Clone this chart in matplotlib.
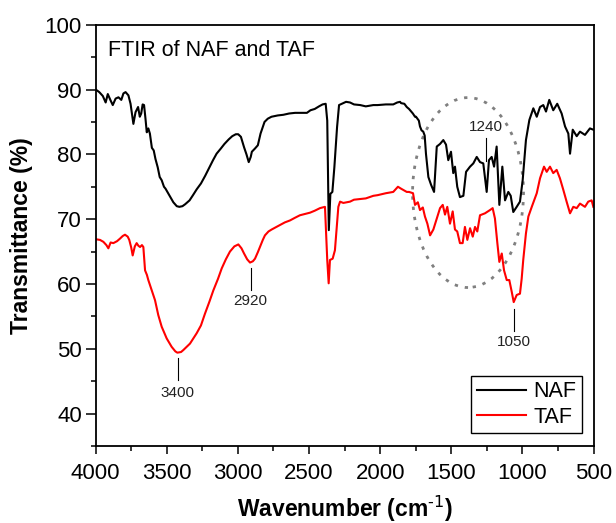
import matplotlib
matplotlib.use("Agg")
import matplotlib.pyplot as plt
from matplotlib.patches import Ellipse
from matplotlib.ticker import MultipleLocator

plt.rcParams['font.family'] = ['Liberation Sans', 'DejaVu Sans']
plt.rcParams['mathtext.default'] = 'regular'

naf_wn = [4000, 3975, 3950, 3930, 3915, 3895, 3880, 3860, 3840, 3820, 3805, 3790, 3770, 3755,
          3735, 3720, 3702, 3690, 3680, 3670, 3660, 3650, 3641, 3630, 3619, 3605, 3592, 3580,
          3564, 3550, 3536, 3520, 3509, 3480, 3454, 3430, 3412, 3390, 3371, 3340, 3316, 3290,
          3260, 3230, 3205, 3175, 3150, 3120, 3095, 3065, 3040, 3015, 2998, 2979, 2957, 2940,
          2924, 2910, 2902, 2880, 2860, 2841, 2813, 2790, 2764, 2720, 2681, 2640, 2598, 2550,
          2515, 2490, 2460, 2430, 2405, 2383, 2372, 2361, 2350, 2336, 2322, 2303, 2289, 2260,
          2240, 2212, 2184, 2140, 2101, 2048, 2018, 1960, 1908, 1880, 1860, 1853, 1830, 1813,
          1797, 1770, 1755, 1748, 1728, 1720, 1709, 1697, 1687, 1678, 1661, 1642, 1621, 1602,
          1579, 1556, 1537, 1521, 1502, 1486, 1474, 1458, 1439, 1415, 1396, 1368, 1345, 1321,
          1298, 1275, 1251, 1235, 1216, 1199, 1181, 1162, 1141, 1122, 1099, 1082, 1064, 1040,
          1017, 998, 975, 951, 923, 899, 876, 853, 834, 811, 783, 755, 724, 700, 677, 665, 646,
          618, 595, 560, 525, 501]
naf_t = [90.0, 89.6, 89.0, 88.0, 89.3, 88.3, 87.6, 88.6, 88.8, 88.4, 89.4, 89.6, 89.1, 87.8,
         84.7, 86.5, 87.3, 85.8, 86.3, 87.7, 87.6, 85.5, 83.4, 84.0, 83.2, 81.0, 80.6, 79.3,
         78.0, 76.5, 76.0, 75.0, 74.7, 73.6, 72.6, 72.0, 71.9, 72.0, 72.3, 72.9, 73.7, 74.6,
         75.5, 76.7, 77.8, 79.1, 80.1, 80.9, 81.6, 82.3, 82.8, 83.1, 83.1, 82.7, 81.1, 80.0,
         78.8, 79.6, 80.4, 80.9, 81.4, 83.2, 85.0, 85.5, 85.8, 86.0, 86.1, 86.3, 86.4, 86.4,
         86.4, 86.8, 87.0, 87.4, 87.7, 87.8, 85.2, 68.3, 73.9, 74.2, 78.0, 84.2, 87.6, 87.9,
         88.1, 88.0, 87.7, 87.6, 87.4, 87.6, 87.6, 87.7, 87.7, 88.0, 88.1, 87.9, 87.8, 87.3,
         87.0, 86.3, 85.8, 85.8, 85.2, 84.3, 83.7, 83.5, 82.9, 80.1, 76.5, 75.3, 74.2, 81.2,
         81.6, 82.2, 81.5, 79.1, 80.4, 77.1, 78.1, 75.0, 73.4, 73.6, 77.3, 78.1, 78.6, 79.6,
         78.8, 78.6, 74.2, 79.1, 79.6, 78.1, 81.2, 72.2, 78.1, 72.9, 74.2, 73.6, 71.1, 71.9,
         72.7, 76.0, 82.2, 85.3, 87.1, 85.8, 87.3, 87.6, 86.6, 88.4, 86.8, 87.8, 86.3, 84.3,
         83.2, 80.1, 83.8, 82.8, 83.5, 83.0, 84.0, 83.8]

taf_wn = [4000, 3970, 3946, 3925, 3911, 3895, 3876, 3850, 3829, 3810, 3794, 3775, 3764, 3750,
          3740, 3725, 3712, 3700, 3688, 3675, 3665, 3653, 3640, 3630, 3606, 3583, 3560, 3536,
          3501, 3466, 3440, 3426, 3400, 3384, 3337, 3290, 3260, 3232, 3200, 3173, 3140, 3114,
          3085, 3056, 3025, 2997, 2975, 2957, 2935, 2915, 2895, 2880, 2860, 2845, 2825, 2810,
          2785, 2763, 2730, 2704, 2670, 2634, 2600, 2564, 2530, 2493, 2460, 2423, 2388, 2372,
          2362, 2353, 2334, 2318, 2294, 2282, 2259, 2212, 2184, 2101, 2048, 2018, 1960, 1908,
          1875, 1853, 1813, 1797, 1769, 1755, 1735, 1720, 1700, 1685, 1668, 1649, 1626, 1602,
          1579, 1560, 1544, 1528, 1509, 1490, 1474, 1458, 1439, 1420, 1404, 1387, 1368, 1349,
          1333, 1317, 1298, 1263, 1228, 1209, 1193, 1176, 1162, 1145, 1129, 1110, 1092, 1075,
          1061, 1040, 1017, 1005, 994, 975, 958, 934, 899, 876, 848, 829, 806, 783, 759, 736,
          712, 689, 665, 642, 618, 595, 560, 537, 513, 501]
taf_t = [66.9, 66.8, 66.5, 66.0, 65.5, 66.4, 66.3, 66.6, 67.0, 67.4, 67.6, 67.3, 66.8, 65.6,
         64.4, 65.8, 66.3, 65.9, 65.7, 66.0, 65.7, 62.1, 61.4, 60.6, 59.0, 57.5, 55.2, 53.4,
         51.6, 50.3, 49.6, 49.4, 49.5, 49.8, 50.8, 52.4, 53.6, 55.4, 57.3, 59.0, 60.8, 62.4,
         63.8, 65.0, 65.8, 66.1, 65.5, 64.7, 63.8, 63.3, 63.5, 63.9, 64.9, 65.7, 66.8, 67.5,
         68.1, 68.4, 68.8, 69.1, 69.5, 69.8, 70.2, 70.6, 70.8, 71.0, 71.3, 71.7, 71.9, 63.7,
         60.1, 63.7, 63.9, 65.2, 71.9, 72.7, 72.5, 72.7, 73.0, 73.2, 73.6, 73.7, 74.0, 74.2,
         75.0, 74.7, 74.2, 74.2, 74.0, 72.2, 72.6, 71.4, 71.8, 70.4, 69.3, 67.5, 68.4, 70.1,
         71.7, 72.2, 70.7, 71.9, 69.3, 71.2, 68.4, 68.1, 66.3, 66.3, 68.8, 66.8, 68.6, 67.3,
         68.8, 68.1, 70.6, 70.9, 71.4, 71.7, 70.1, 66.3, 63.4, 64.7, 62.1, 60.6, 60.6, 58.8,
         57.2, 58.3, 58.5, 60.8, 63.7, 67.8, 70.4, 71.9, 74.0, 76.3, 78.1, 77.3, 78.1, 77.1,
         77.6, 76.3, 74.5, 72.7, 70.9, 71.9, 71.7, 72.4, 71.9, 72.7, 72.9, 71.9]

peak_labels = ["3400", "2920", "1240", "1050"]
peak_x = [3423, 2910, 1254, 1061]
peak_line_top = [48.6, 62.4, 82.5, 56.2]
peak_line_bottom = [45.2, 59.1, 79.0, 52.8]
peak_text_y = [43.2, 57.3, 84.2, 51.1]

x_ticks = [4000, 3500, 3000, 2500, 2000, 1500, 1000, 500]
y_ticks = [40, 50, 60, 70, 80, 90, 100]

fig = plt.figure(figsize=(6.16, 5.23), dpi=100)
ax = fig.add_axes([95.7 / 616, (523 - 446) / 523, 497.8 / 616, 421.3 / 523])

ax.plot(naf_wn, naf_t, color='black', lw=1.5, label='NAF')
ax.plot(taf_wn, taf_t, color='#ff0000', lw=1.5, label='TAF')

ax.set_xlim(4000, 500)
ax.set_ylim(35, 100)
ax.set_xticks(x_ticks)
ax.set_yticks(y_ticks)
ax.xaxis.set_minor_locator(MultipleLocator(250))
ax.yaxis.set_minor_locator(MultipleLocator(5))
ax.tick_params(which='major', direction='out', length=6, width=1.1, labelsize=16, top=False, right=False)
ax.tick_params(axis='x', which='major', pad=6)
ax.tick_params(axis='y', which='major', pad=3, length=7)
ax.tick_params(which='minor', direction='out', length=3.5, width=1.1, top=False, right=False)
for s in ax.spines.values():
    s.set_linewidth(1.3)

ax.set_xlabel('Wavenumber (cm$^{\\text{-1}}$)', fontsize=16.5, fontweight='bold', labelpad=7)
ax.set_ylabel('Transmittance (%)', fontsize=16.5, fontweight='bold', labelpad=8)

ax.text(0.0253, 0.9257, 'FTIR of NAF and TAF', transform=ax.transAxes, fontsize=15.5,
        va='baseline', ha='left')

for lab, xp, yt, yb, ty in zip(peak_labels, peak_x, peak_line_top, peak_line_bottom, peak_text_y):
    ax.plot([xp, xp], [yb, yt], color='black', lw=0.8)
    ax.text(xp, ty, lab, fontsize=11, ha='center', va='center', color='#222222')

ell = Ellipse((1382, 74.1), width=780, height=29.3, fill=False, edgecolor='#808080',
              linestyle=(0, (1.2, 2.5)), lw=2)
ax.add_patch(ell)

leg = ax.legend(loc='lower right', bbox_to_anchor=(0.977, 0.031), borderaxespad=0,
                fontsize=15.5, frameon=True, fancybox=False, framealpha=1,
                edgecolor='black', borderpad=0.25, labelspacing=0.2,
                handletextpad=0.35, handlelength=2.3)
leg.get_frame().set_linewidth(1.0)

fig.savefig('out.png', dpi=100)
